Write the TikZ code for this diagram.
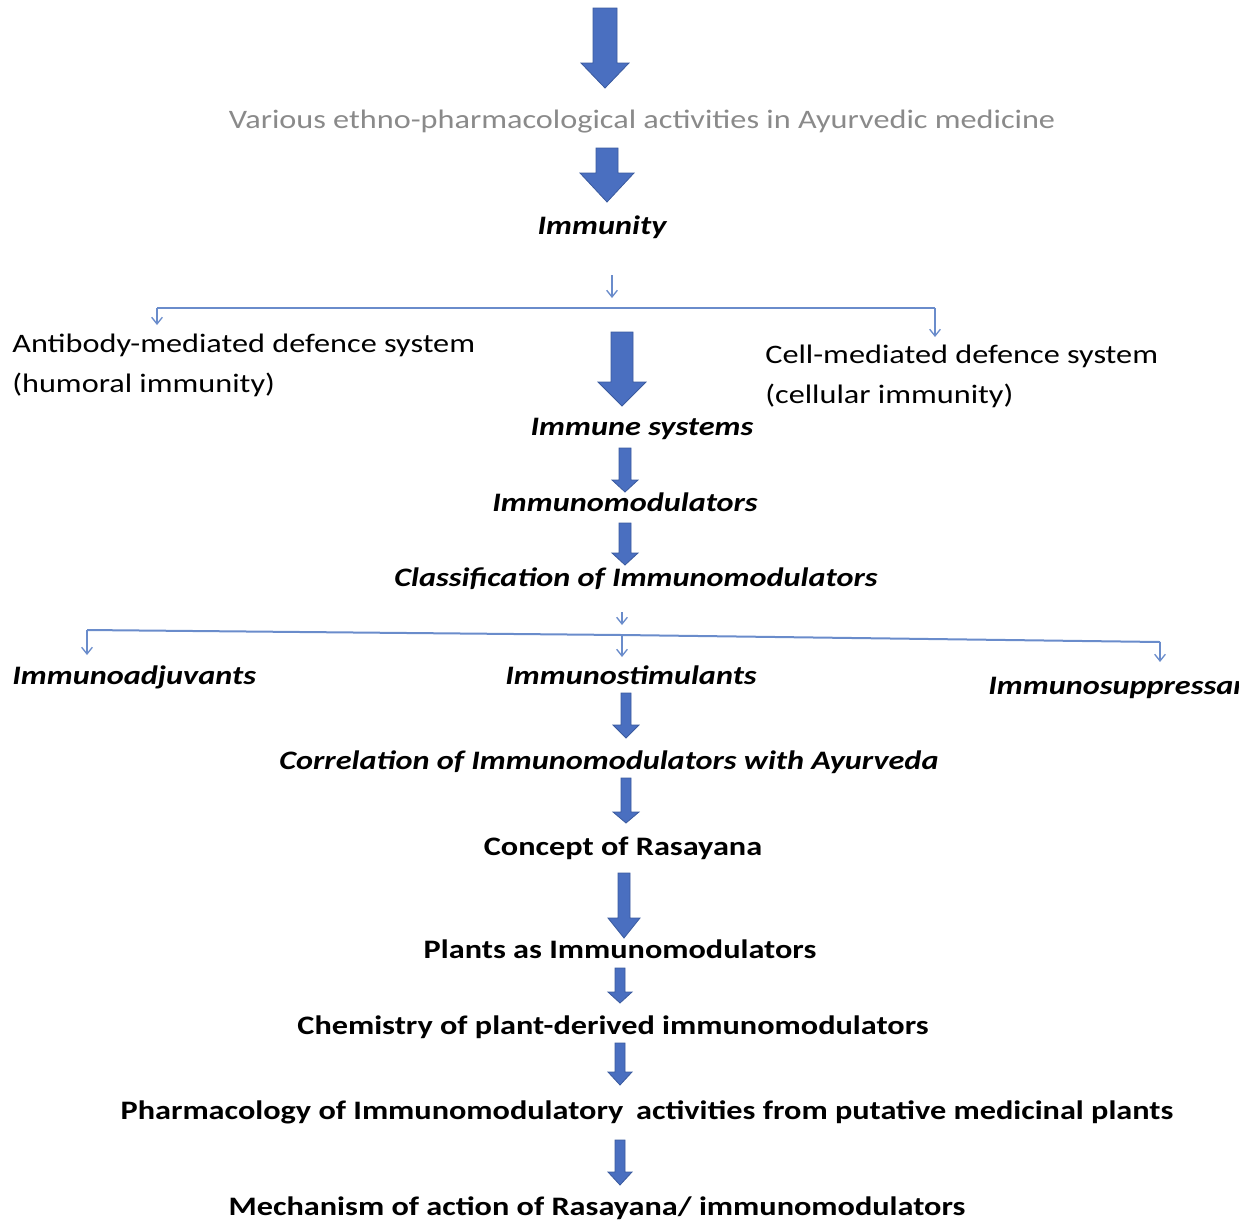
\documentclass[tikz,border=0pt]{standalone}
\usepackage{fontspec}
\setmainfont{Carlito}
\usetikzlibrary{arrows.meta}
\definecolor{bfill}{HTML}{4A6FC0}
\definecolor{bedge}{HTML}{3A5A9E}
\definecolor{thin}{HTML}{6A8CCB}
\definecolor{graytxt}{HTML}{8A8A8A}
\newcommand{\blockarrow}[6]{% x, top, headstart, tip, shaft half width, head half width
  \fill[bfill,draw=bedge,line width=0.6pt] (#1-#5,#2) -- (#1+#5,#2) -- (#1+#5,#3) -- (#1+#6,#3) -- (#1,#4) -- (#1-#6,#3) -- (#1-#5,#3) -- cycle;}
\begin{document}
\begin{tikzpicture}[x=0.75pt,y=-0.75pt,
  lab/.style={inner sep=0pt,anchor=base,xscale=1.21},
  bi/.style={lab,font=\fontsize{20}{22}\selectfont\bfseries\itshape},
  bo/.style={lab,font=\fontsize{20}{22}\selectfont\bfseries},
  rg/.style={lab,font=\fontsize{20}{22}\selectfont},
  gr/.style={lab,font=\fontsize{20}{22}\selectfont,text=graytxt},
  conn/.style={draw=thin,line width=1.5pt},
  tconn/.style={conn,-{Straight Barb[length=5pt,width=8pt,line width=1pt]}}]
\useasboundingbox (0,0) rectangle (1239,1222);
% labels
\node[gr] (various) at (642,128) {Various ethno-pharmacological activities in Ayurvedic medicine};
\node[bi] (immunity) at (602,234) {Immunity};
\node[rg,anchor=base west] (antibody) at (12,352) {Antibody-mediated defence system};
\node[rg,anchor=base west] (humoral) at (12,392) {(humoral immunity)};
\node[rg,anchor=base west] (cell) at (765,363) {Cell-mediated defence system};
\node[rg,anchor=base west] (cellular) at (765,403) {(cellular immunity)};
\node[bi] (immsys) at (642,435) {Immune systems};
\node[bi] (immmod) at (625,511) {Immunomodulators};
\node[bi] (classif) at (636,586) {Classification of Immunomodulators};
\node[bi,anchor=base west] (adjuv) at (12,684) {Immunoadjuvants};
\node[bi] (stim) at (631,684) {Immunostimulants};
\node[bi,anchor=base west] (suppr) at (988,694) {Immunosuppressants};
\node[bi] (correl) at (609,769) {Correlation of Immunomodulators with Ayurveda};
\node[bo] (concept) at (623,855) {Concept of Rasayana};
\node[bo] (plants) at (620,958) {Plants as Immunomodulators};
\node[bo] (chem) at (613,1034) {Chemistry of plant-derived immunomodulators};
\node[bo] (pharm) at (647,1119) {Pharmacology of Immunomodulatory\, activities from putative medicinal plants};
\node[bo] (mech) at (597,1215) {Mechanism of action of Rasayana/ immunomodulators};
% block arrows
\blockarrow{605}{8}{63}{88}{12}{24}
\blockarrow{607}{148}{173}{202}{11}{27}
\blockarrow{622}{332}{382}{406}{11}{24}
\blockarrow{625}{448}{480}{492}{6}{13}
\blockarrow{625}{523}{553}{565}{6}{13}
\blockarrow{626}{693}{725}{738}{5}{13}
\blockarrow{626}{778}{812}{823}{5}{13}
\blockarrow{624}{873}{918}{938}{6}{16}
\blockarrow{620}{968}{992}{1003}{5}{12}
\blockarrow{620}{1043}{1072}{1085}{5}{12}
\blockarrow{620}{1140}{1172}{1185}{5}{12}
% thin connectors, first split
\coordinate (s1a) at (612,275);
\coordinate (s1b) at (612,298);
\coordinate (h1l) at (157,308);
\coordinate (h1r) at (935,308);
\coordinate (t1l) at (157,325);
\coordinate (t1r) at (935,337);
\draw[tconn] (s1a) -- (s1b);
\draw[conn] (h1l) -- (h1r);
\draw[tconn] (h1l) -- (t1l);
\draw[tconn] (h1r) -- (t1r);
% second split
\coordinate (s2a) at (622,612);
\coordinate (s2b) at (622,625);
\coordinate (h2l) at (87,630);
\coordinate (h2m) at (622,635);
\coordinate (h2r) at (1160,642);
\coordinate (t2l) at (87,655);
\coordinate (t2m) at (622,657);
\coordinate (t2r) at (1160,662);
\draw[tconn] (s2a) -- (s2b);
\draw[conn] (h2l) -- (h2m) -- (h2r);
\draw[tconn] (h2l) -- (t2l);
\draw[tconn] (h2m) -- (t2m);
\draw[tconn] (h2r) -- (t2r);
\end{tikzpicture}
\end{document}
